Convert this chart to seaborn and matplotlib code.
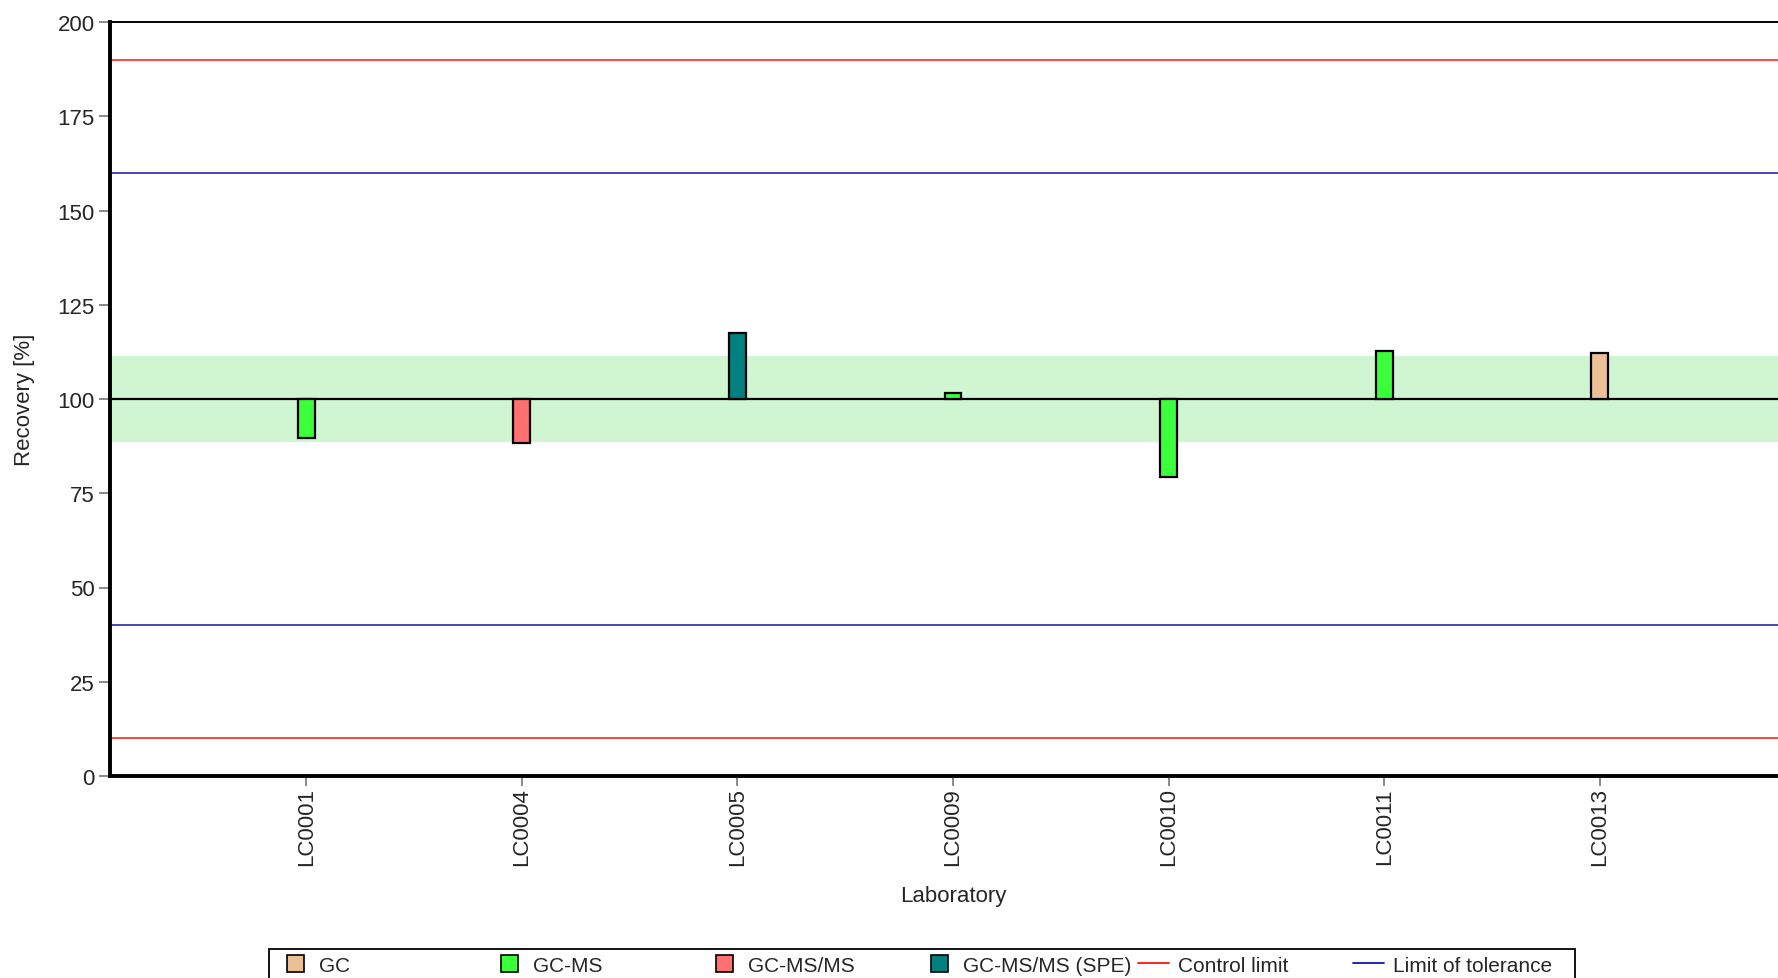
import pandas as pd
import matplotlib.pyplot as plt
import seaborn as sns
from matplotlib.patches import Patch, Rectangle
from matplotlib.lines import Line2D

# Data
labs = ['LC0001', 'LC0004', 'LC0005', 'LC0009', 'LC0010', 'LC0011', 'LC0013']
recovery = [89.7, 88.2, 117.5, 101.7, 79.2, 112.7, 112.3]
methods = ['GC-MS', 'GC-MS/MS', 'GC-MS/MS (SPE)', 'GC-MS', 'GC-MS', 'GC-MS', 'GC']

method_order = ['GC', 'GC-MS', 'GC-MS/MS', 'GC-MS/MS (SPE)']
method_colors = ['#ECC095', '#3CFF3C', '#FF7070', '#008080']

assigned = 100
band = (88.6, 111.4)
control_limits = [10, 190]
tolerance_limits = [40, 160]

df = pd.DataFrame({'Laboratory': labs, 'Recovery': recovery, 'Method': methods})
df['Deviation'] = df['Recovery'] - assigned

sns.set_style("ticks")
plt.rcParams['font.family'] = ['Liberation Sans', 'DejaVu Sans']

fig = plt.figure(figsize=(17.78, 9.79), dpi=100)
ax = fig.add_axes([110 / 1778, 202 / 979, 1686 / 1778, 754 / 979])

ax.axhspan(band[0], band[1], color='#CFF5D1', lw=0, zorder=0)
for y in control_limits:
    ax.axhline(y, color='#FF1010', lw=1.1, zorder=1)
for y in tolerance_limits:
    ax.axhline(y, color='#1515A8', lw=1.1, zorder=1)
ax.axhline(assigned, color='black', lw=1.6, zorder=1)

sns.barplot(data=df, x='Laboratory', y='Deviation', hue='Method',
            hue_order=method_order, palette=method_colors, saturation=1,
            dodge=False, width=0.078, bottom=assigned, edgecolor='black',
            linewidth=1.6, errorbar=None, legend=False, ax=ax, zorder=3)

ax.set_ylim(0, 200)
ax.set_xlim(-0.91, 6.91)
ax.set_yticks(range(0, 201, 25))
ax.set_xlabel('Laboratory', fontsize=16, labelpad=14)
ax.set_ylabel('Recovery [%]', fontsize=16, labelpad=16)
ax.tick_params(axis='y', labelsize=16, length=8, width=1.3, color='#808080', pad=3)
ax.tick_params(axis='x', labelsize=16, length=7, width=1.3, color='#808080',
               pad=1, labelrotation=90)

for side in ['left', 'bottom']:
    ax.spines[side].set_linewidth(2.8)
    ax.spines[side].set_color('black')
ax.spines['top'].set_linewidth(1.4)
ax.spines['top'].set_color('black')
ax.spines['right'].set_visible(False)

# Legend: evenly spaced entries inside one frame
handles = [Patch(facecolor=c, edgecolor='black', lw=1.2) for c in method_colors]
handles += [Line2D([], [], color='#FF1010', lw=1.3), Line2D([], [], color='#1515A8', lw=1.3)]
labels = method_order + ['Control limit', 'Limit of tolerance']

text_x0 = 318.6
slot = 214.8
leg_y = 1 - 966 / 979
for i, (h, l) in enumerate(zip(handles, labels)):
    is_line = isinstance(h, Line2D)
    left = text_x0 + i * slot - (40 if is_line else 32)
    fsize = 15
    leg = fig.legend([h], [l], loc='center left', bbox_to_anchor=(left / 1778, leg_y),
                     frameon=False, fontsize=fsize, borderpad=0, borderaxespad=0,
                     handlelength=1.5 if is_line else 0.82, handleheight=0.87,
                     handletextpad=0.44 if is_line else 0.72)
fig.add_artist(Rectangle((269 / 1778, -0.02), (1575 - 269) / 1778, 0.02 + 1 - 950 / 979,
                         transform=fig.transFigure, fill=False, ec='black', lw=1.3))

plt.savefig('out.png', dpi=100)
